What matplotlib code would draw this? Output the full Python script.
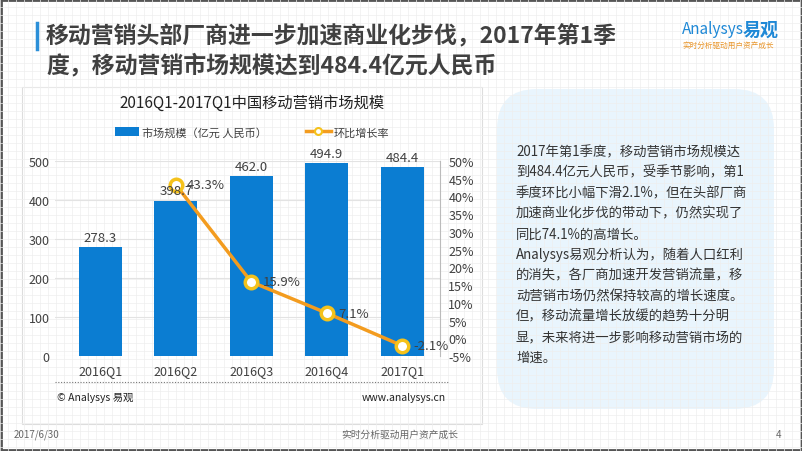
import matplotlib
matplotlib.use("Agg")
import matplotlib.pyplot as plt
from matplotlib.patches import FancyBboxPatch, Rectangle
from matplotlib.lines import Line2D
import numpy as np

plt.rcParams['font.family'] = ['Noto Sans CJK SC', 'DejaVu Sans']

# data
quarters = ["2016Q1", "2016Q2", "2016Q3", "2016Q4", "2017Q1"]
market_size = [278.3, 398.7, 462.0, 494.9, 484.4]
growth = [None, 43.3, 15.9, 7.1, -2.1]
left_ticks = [0, 100, 200, 300, 400, 500]
right_ticks = [-5, 0, 5, 10, 15, 20, 25, 30, 35, 40, 45, 50]

title = "移动营销头部厂商进一步加速商业化步伐，2017年第1季\n度，移动营销市场规模达到484.4亿元人民币"
chart_title = "2016Q1-2017Q1中国移动营销市场规模"
legend_bar = "市场规模（亿元 人民币）"
legend_line = "环比增长率"
side_text = [
    "2017年第1季度，移动营销市场规模达",
    "到484.4亿元人民币，受季节影响，第1",
    "季度环比小幅下滑2.1%，但在头部厂商",
    "加速商业化步伐的带动下，仍然实现了",
    "同比74.1%的高增长。",
    "Analysys易观分析认为，随着人口红利",
    "的消失，各厂商加速开发营销流量，移",
    "动营销市场仍然保持较高的增长速度。",
    "但，移动流量增长放缓的趋势十分明",
    "显，未来将进一步影响移动营销市场的",
    "增速。",
]

W, H = 802, 452
BLUE = "#0B7DD2"
ORANGE = "#F39C1F"
RING = "#F5C21B"
TXT = "#404040"

fig = plt.figure(figsize=(W / 100, H / 100), dpi=100)
fig.patch.set_facecolor("white")

def fx(px):
    return px / W

def fy(py):
    return 1 - py / H

# graph paper background
bg = fig.add_axes([0, 0, 1, 1], zorder=-10)
bg.set_xlim(0, W)
bg.set_ylim(H, 0)
bg.axis("off")
for gx in np.arange(0, W, 8):
    bg.axvline(gx, color="#EEEEEE", lw=0.5)
for gy in np.arange(0, H, 8):
    bg.axhline(gy, color="#EEEEEE", lw=0.5)
bg.add_patch(Rectangle((1, 1), W - 2, H - 2, fill=False, ec="#555555", lw=2))
# chart panel
bg.add_patch(Rectangle((22, 88), 460, 337, fc="white", ec="#DDDDDD", lw=0.8))
# text panel
bg.add_patch(FancyBboxPatch((497, 90), 277, 320, boxstyle="round,pad=0,rounding_size=40",
                            fc="#E9F5FD", ec="none"))
# title marker
bg.plot([37, 37], [24, 50], color="#2B8FD8", lw=2.5)

# title
fig.text(fx(46), fy(51), title, fontsize=16.5, fontweight="bold", color=TXT,
         va="center", ha="left", linespacing=1.25)

# logo
fig.text(fx(682), fy(30), "Analysys", fontsize=11, color="#1E88D6", style="italic",
         va="center", ha="left")
fig.text(fx(743), fy(30), "易观", fontsize=13, color="#1E88D6", fontweight="bold",
         va="center", ha="left")
fig.text(fx(728), fy(46), "实时分析驱动用户资产成长", fontsize=5.5, color="#E8952A",
         va="center", ha="center")

# chart
ax = fig.add_axes([fx(55), fy(357), fx(440) - fx(55), fy(162) - fy(357)])
x = np.arange(len(quarters))
ax.bar(x, market_size, width=0.57, color=BLUE, zorder=2)
ax.set_xlim(-0.6, 4.5)
ax.set_ylim(0, 500)
ax.set_yticks(left_ticks)
ax.set_xticks(x)
ax.set_xticklabels(quarters)
ax.tick_params(axis="both", length=0, labelsize=9, colors=TXT, pad=6)
ax.tick_params(axis="y", pad=4)
ax.yaxis.grid(True, color="#E3E3E3", lw=0.8, zorder=0)
ax.set_axisbelow(True)
for s in ax.spines.values():
    s.set_visible(False)
ax.patch.set_alpha(0)

ax2 = ax.twinx()
ax2.set_ylim(-5, 50)
ax2.set_yticks(right_ticks)
ax2.set_yticklabels([f"{t}%" for t in right_ticks])
ax2.tick_params(axis="y", length=0, labelsize=9, colors=TXT, pad=6)
for s in ax2.spines.values():
    s.set_visible(False)
ax2.spines["right"].set_visible(True)
ax2.spines["right"].set_color("#BBBBBB")
gx = [xi for xi, g in zip(x, growth) if g is not None]
gv = [g for g in growth if g is not None]
ax2.plot(gx, gv, color=ORANGE, lw=2.5, marker="o", ms=9, mfc="white", mec=RING, mew=2.5, zorder=4)
for xi, g in zip(gx, gv):
    ax2.text(xi + 0.15, g, f"{g}%", ha="left", va="center", fontsize=9.5, color=TXT, zorder=5)
# bar value labels drawn on top of the line layer
for xi, v in zip(x, market_size):
    ax2.text(xi, v + 8, f"{v:.1f}", ha="center", va="bottom", fontsize=9.5, color=TXT,
             zorder=6, transform=ax.transData)

# chart title & legend
fig.text(fx(252), fy(103), chart_title, fontsize=11, color="#222222", ha="center", va="center")
handles = [Rectangle((0, 0), 1, 1, fc=BLUE),
           Line2D([0], [0], color=ORANGE, lw=2.5, marker="o", ms=5, mfc="white", mec=RING, mew=1.5)]
fig.legend(handles, [legend_bar, legend_line], loc="center", bbox_to_anchor=(fx(252), fy(133)),
           ncol=2, frameon=False, fontsize=8, handlelength=2.2, handleheight=0.8,
           columnspacing=3.5, handletextpad=0.3, labelcolor=TXT)

# footer of chart
bg.plot([55, 448], [383, 383], color="#777777", lw=0.8, ls=(0, (1, 1.5)))
fig.text(fx(57), fy(398), "© Analysys 易观", fontsize=7.5, color="#222222", ha="left", va="center")
fig.text(fx(446), fy(398), "www.analysys.cn", fontsize=7.5, color="#222222", ha="right", va="center")

# side text
for i, line in enumerate(side_text):
    fig.text(fx(516), fy(152 + i * 20.6), line, fontsize=9.6, color="#333333", ha="left", va="center")

# page footer
fig.text(fx(14), fy(435), "2017/6/30", fontsize=7, color="#666666", ha="left", va="center")
fig.text(fx(400), fy(435), "实时分析驱动用户资产成长", fontsize=7, color="#666666", ha="center", va="center")
fig.text(fx(781), fy(435), "4", fontsize=7, color="#666666", ha="right", va="center")

fig.savefig("out.png", dpi=100)
